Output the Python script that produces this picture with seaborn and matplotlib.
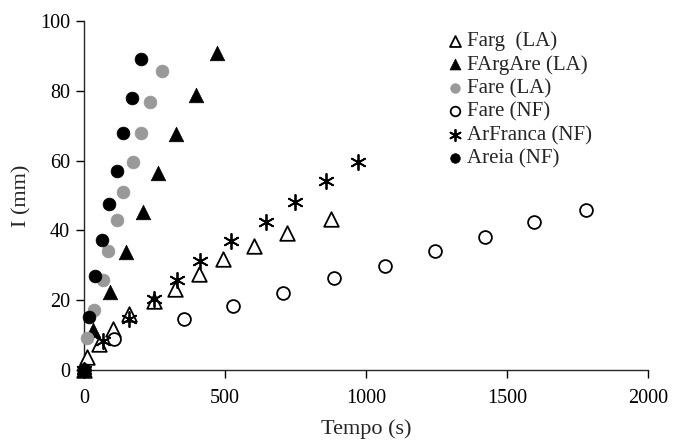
import numpy as np
import pandas as pd
import matplotlib
matplotlib.use("Agg")
import matplotlib.pyplot as plt
import seaborn as sns

# valores
farg_la_t = [0, 12, 54, 104, 161, 248, 324, 409, 494, 603, 721, 875]
farg_la_i = [0, 3.8, 7.4, 11.7, 16.0, 19.9, 23.3, 27.4, 31.7, 35.5, 39.3, 43.2]

fargare_la_t = [0, 33, 92, 149, 208, 261, 326, 397, 473]
fargare_la_i = [0, 11.5, 22.4, 33.9, 45.2, 56.4, 67.6, 78.8, 90.7]

fare_la_t = [0, 12, 37, 66, 84, 116, 139, 173, 201, 234, 278]
fare_la_i = [0, 9.1, 17.2, 25.8, 34.2, 43.0, 51.1, 59.7, 68.0, 76.8, 85.7]

fare_nf_t = [0, 106, 355, 527, 705, 887, 1068, 1245, 1422, 1597, 1779]
fare_nf_i = [0, 8.8, 14.5, 18.3, 22.2, 26.3, 29.9, 34.2, 38.2, 42.3, 45.8]

arfranca_nf_t = [0, 69, 161, 249, 329, 411, 520, 645, 748, 858, 972]
arfranca_nf_i = [0, 8.3, 14.5, 20.3, 25.8, 31.3, 37.0, 42.5, 48.2, 54.1, 59.6]

areia_nf_t = [0, 19, 39, 65, 90, 116, 139, 169, 201]
areia_nf_i = [0, 15.1, 26.9, 37.2, 47.5, 57.1, 68.0, 77.8, 89.0]

series = [
    ('Farg  (LA)', farg_la_t, farg_la_i),
    ('FArgAre (LA)', fargare_la_t, fargare_la_i),
    ('Fare (LA)', fare_la_t, fare_la_i),
    ('Fare (NF)', fare_nf_t, fare_nf_i),
    ('ArFranca (NF)', arfranca_nf_t, arfranca_nf_i),
    ('Areia (NF)', areia_nf_t, areia_nf_i),
]

estilos = {
    'Farg  (LA)': dict(marker='^', facecolor='white', edgecolor='black', s=110, linewidth=1.3),
    'FArgAre (LA)': dict(marker='^', facecolor='black', edgecolor='black', s=110, linewidth=0.5),
    'Fare (LA)': dict(marker='o', facecolor='#999999', edgecolor='#999999', s=85, linewidth=0.5),
    'Fare (NF)': dict(marker='o', facecolor='white', edgecolor='black', s=85, linewidth=1.3),
    'ArFranca (NF)': dict(marker=(6, 2, 0), facecolor='black', edgecolor='black', s=120, linewidth=1.3),
    'Areia (NF)': dict(marker='o', facecolor='black', edgecolor='black', s=85, linewidth=0.5),
}

sns.set_style('ticks')
plt.rcParams['font.family'] = ['Liberation Serif', 'DejaVu Serif']

fig = plt.figure(figsize=(6.81, 4.41), dpi=100)
ax = fig.add_axes([84 / 681, 71 / 441, 564 / 681, 349 / 441])

for nome, t, i in series:
    df = pd.DataFrame({'Tempo': t, 'I': i})
    st = estilos[nome]
    sns.scatterplot(
        data=df, x='Tempo', y='I', ax=ax, label=nome,
        marker=st['marker'], color=st['facecolor'], edgecolor=st['edgecolor'],
        s=st['s'], linewidth=st['linewidth'], clip_on=False, zorder=3
    )

ax.set_xlim(0, 2000)
ax.set_ylim(0, 100)
ax.set_xticks([0, 500, 1000, 1500, 2000])
ax.set_yticks([0, 20, 40, 60, 80, 100])
ax.tick_params(labelsize=14.5, length=6, width=1, direction='out', colors='black', pad=4)
ax.tick_params(axis='x', pad=8)
ax.set_xlabel('Tempo (s)', fontsize=16, labelpad=8)
ax.set_ylabel('I (mm)', fontsize=16, labelpad=6)
sns.despine(ax=ax)
ax.spines['left'].set_linewidth(1)
ax.spines['bottom'].set_linewidth(1)

ax.legend(
    loc='upper left', bbox_to_anchor=(0.602, 1.024), frameon=False,
    fontsize=15, handletextpad=0.0, labelspacing=0.19, markerscale=0.75,
    handlelength=1.2
)

fig.savefig('out.png', dpi=100)
